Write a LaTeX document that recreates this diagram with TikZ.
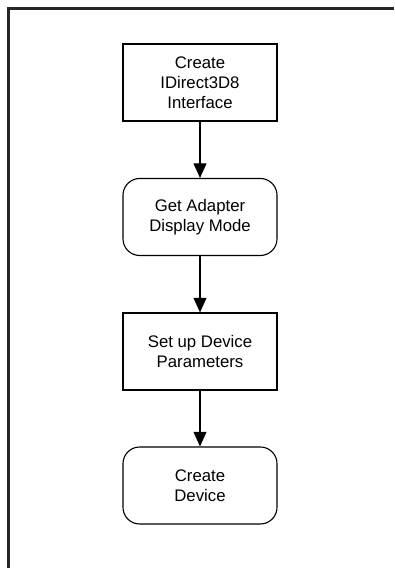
\documentclass[tikz,border=0pt]{standalone}
\usepackage{fontspec}
\setmainfont{Liberation Sans}
\usepackage{tikz}
\usetikzlibrary{arrows.meta, positioning, shapes}
\tikzset{every node/.style={font=\fontsize{14.3}{17.2}\selectfont}, every path/.style={line join=miter}, >={Triangle[length=4.4mm, width=3.9mm]}}

\begin{document}
\begin{tikzpicture}[
    stepbox/.style={
        draw,
        line width=0.95pt,
        align=center,
        minimum width=4.62cm,
        minimum height=2.31cm,
        inner sep=2pt
    },
    roundbox/.style={
        stepbox,
        rounded corners=0.5cm
    },
    arrow/.style={
        ->,
        line width=1pt
    },
    frame/.style={
        line width=2.1pt,
        draw=black!85
    }
]

\useasboundingbox (0,0) rectangle (11.82,17.04);

% partial outer frame
\coordinate (frametr) at (11.82,16.785);
\coordinate (framecorner) at (0.255,16.785);
\coordinate (framebl) at (0.255,0);
\draw[frame] (frametr) -- (framecorner) -- (framebl);

\node[stepbox] (iface) at (6,14.565)
{Create\\IDirect3D8\\Interface};

\node[roundbox] (mode) at (6,10.53)
{Get Adapter\\Display Mode};

\node[stepbox] (params) at (6,6.495)
{Set up Device\\Parameters};

\node[roundbox] (device) at (6,2.475)
{Create\\Device};

\draw[arrow] (iface) -- (mode);
\draw[arrow] (mode) -- (params);
\draw[arrow] (params) -- (device);

\end{tikzpicture}
\end{document}
